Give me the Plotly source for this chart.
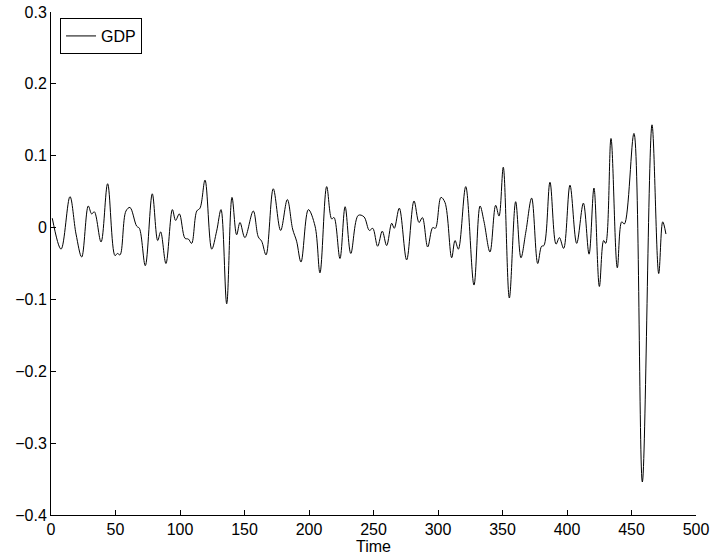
import plotly.graph_objects as go

# Time positions (read at turning points) and GDP values
time = [1, 7.8, 14.7, 19.4, 23.8, 28.9, 31.5, 33.6, 38.8, 43.9, 49.6, 51.5, 53.5, 58.1, 61.2,
        66.4, 68.5, 73.1, 78.5, 82.7, 85, 89.1, 94.1, 96.6, 99.5, 103.9, 106.5, 109, 113, 115.5,
        119.4, 124.6, 128.4, 131.8, 136.2, 140.3, 143.9, 146.5, 150.3, 156.8, 160.7, 163.3, 166.7,
        172.3, 178.0, 183.2, 187.3, 190.4, 193.8, 199.5, 204.7, 208.5, 213.7, 217.6, 219.4, 224.0,
        228.0, 232.4, 238.2, 242.6, 246.8, 249.4, 253.2, 256.8, 260.2, 264.1, 266.1, 270.0, 275.7,
        281.4, 285.3, 287.9, 292.0, 295.9, 298, 302.3, 305.4, 310.6, 313.2, 315.8, 321.5, 327.9,
        332.6, 335.7, 340.3, 344.7, 347.3, 350.6, 355.3, 360.2, 364.3, 368.1, 372.6, 377.3, 380.3,
        382.1, 386.8, 391.5, 394.1, 397.4, 402.3, 407.5, 412.7, 417.1, 420.9, 425.1, 428.4, 430.0,
        434.1, 439.0, 442.4, 444.5, 451.9, 458.4, 465.9, 471.1, 474.2, 476.7]
gdp = [0.013, -0.030, 0.043, -0.009, -0.041, 0.030, 0.019, 0.022, -0.020, 0.061, -0.039, -0.036,
       -0.038, 0.023, 0.028, 0.002, -0.001, -0.053, 0.047, -0.018, -0.006, -0.050, 0.025, 0.010,
       0.019, -0.015, -0.016, -0.022, 0.023, 0.027, 0.066, -0.030, -0.005, 0.025, -0.106, 0.042,
       -0.010, 0.007, -0.014, 0.023, -0.013, -0.019, -0.038, 0.054, -0.004, 0.039, -0.002, -0.019,
       -0.048, 0.025, 0.002, -0.063, 0.057, 0.012, 0.014, -0.043, 0.029, -0.036, 0.017, 0.015,
       -0.004, -0.001, -0.026, -0.005, -0.025, 0.006, -0.001, 0.027, -0.045, 0.037, 0.007, 0.014,
       -0.027, 0.000, -0.001, 0.042, 0.035, -0.042, -0.018, -0.030, 0.057, -0.080, 0.030, 0.008,
       -0.034, 0.031, 0.016, 0.084, -0.098, 0.036, -0.042, -0.006, 0.041, -0.050, -0.026, -0.025,
       0.063, -0.023, -0.014, -0.029, 0.059, -0.022, 0.034, -0.037, 0.055, -0.082, -0.018, -0.022,
       0.124, -0.056, 0.008, 0.005, 0.131, -0.354, 0.143, -0.064, 0.008, -0.009]

x_ticks = [0, 50, 100, 150, 200, 250, 300, 350, 400, 450, 500]
y_ticks = [0.3, 0.2, 0.1, 0, -0.1, -0.2, -0.3, -0.4]

font = dict(family="Liberation Sans, Arial, sans-serif", size=16, color="black")

fig = go.Figure()
fig.add_trace(go.Scatter(x=time, y=gdp, mode="lines", name="GDP",
                         line=dict(color="black", width=1, shape="spline", smoothing=1.0)))

fig.update_layout(
    width=713, height=556,
    margin=dict(l=51, r=17, t=12, b=41),
    paper_bgcolor="white", plot_bgcolor="white",
    font=font,
    showlegend=True,
    legend=dict(x=0.014, y=0.988, xanchor="left", yanchor="top",
                bordercolor="black", borderwidth=1, bgcolor="white",
                font=font, itemwidth=30, tracegroupgap=0),
    xaxis=dict(range=[0, 500], tickvals=x_ticks, ticks="inside", ticklen=5,
               tickcolor="black", showline=True, linecolor="black", linewidth=1,
               showgrid=False, zeroline=False, mirror=False, automargin=False,
               title=dict(text="Time", standoff=0, font=font)),
    yaxis=dict(range=[-0.4, 0.3], tickvals=y_ticks, ticks="inside", ticklen=5,
               tickcolor="black", showline=True, linecolor="black", linewidth=1,
               showgrid=False, zeroline=False, mirror=False, automargin=False),
)

fig.write_html("out.html", config={"displayModeBar": False},
               post_script="document.body.style.margin='0';document.body.style.overflow='hidden';")
